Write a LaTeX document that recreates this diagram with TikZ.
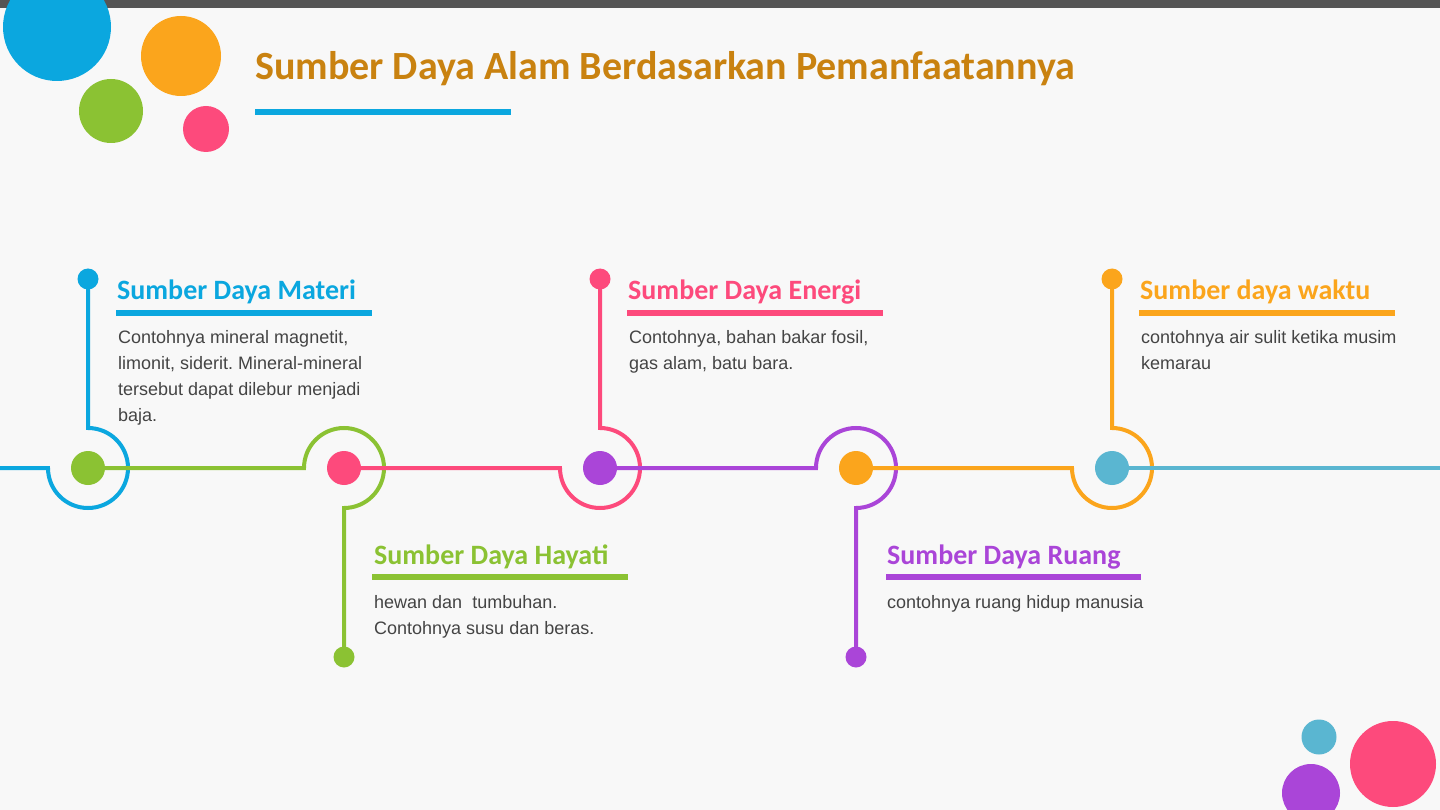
\documentclass[tikz,border=0pt]{standalone}
\usepackage{fontspec}
\setmainfont{Liberation Sans}
\newfontfamily\headfont{Carlito}
\frenchspacing

\definecolor{sdblue}{HTML}{0BA7DF}
\definecolor{sdorange}{HTML}{FBA51C}
\definecolor{sdgreen}{HTML}{8BC233}
\definecolor{sdpink}{HTML}{FD4A7C}
\definecolor{sdpurple}{HTML}{AA45D8}
\definecolor{sdcyan}{HTML}{5AB6D1}
\definecolor{sdtitle}{HTML}{C98210}
\definecolor{sdtext}{HTML}{444444}
\definecolor{sdbg}{HTML}{F8F8F8}
\definecolor{sdbar}{HTML}{555555}

\pgfdeclarelayer{back}
\pgfdeclarelayer{links}
\pgfsetlayers{back,links,main}

\begin{document}
\begin{tikzpicture}[
x=1pt, y=-1pt,
bigdot/.style={circle, fill=#1, minimum size=34pt, inner sep=0pt},
enddot/.style={circle, fill=#1, minimum size=21pt, inner sep=0pt},
link/.style={draw=#1, line width=4pt},
rule/.style={draw=#1, line width=6pt},
head/.style={anchor=base west, inner sep=0pt, text=#1,
  font=\headfont\bfseries\fontsize{28}{32}\selectfont},
body/.style={anchor=base west, inner sep=0pt, text=sdtext, align=left,
  font=\fontsize{18}{26}\selectfont}
]

\useasboundingbox (0,0) rectangle (1440,810);
\begin{pgfonlayer}{back}
\fill[sdbg] (0,0) rectangle (1440,810);
\end{pgfonlayer}
\clip (0,0) rectangle (1440,810);

% top bar and corner circles
\fill[sdbar] (0,0) rectangle (1440,8);
\fill[sdblue] (57,27) circle[radius=54];
\fill[sdorange] (181,56) circle[radius=40];
\fill[sdgreen] (111,111) circle[radius=32];
\fill[sdpink] (206,129) circle[radius=23];
\fill[sdcyan] (1319,737) circle[radius=17.5];
\fill[sdpurple] (1311,793) circle[radius=29];
\fill[sdpink] (1393,764) circle[radius=43];

% title
\node[anchor=base west, inner sep=0pt, text=sdtitle,
  font=\headfont\bfseries\fontsize{40}{46}\selectfont] (title) at (255,80)
{Sumber Daya Alam Berdasarkan Pemanfaatannya};
\draw[rule=sdblue] (255,112.5) -- (511,112.5);

% timeline
\coordinate (start) at (0,468);
\coordinate (stop) at (1440,468);

\node[bigdot=sdgreen] (d1) at (88,468) {};
\node[bigdot=sdpink] (d2) at (344,468) {};
\node[bigdot=sdpurple] (d3) at (600,468) {};
\node[bigdot=sdorange] (d4) at (856,468) {};
\node[bigdot=sdcyan] (d5) at (1112,468) {};

\node[enddot=sdblue] (e1) at (88,279) {};
\node[enddot=sdgreen] (e2) at (344,657) {};
\node[enddot=sdpink] (e3) at (600,279) {};
\node[enddot=sdpurple] (e4) at (856,657) {};
\node[enddot=sdorange] (e5) at (1112,279) {};

\begin{pgfonlayer}{links}
\draw[link=sdblue] (start) -- ([xshift=-40pt]d1.center)
  arc[start angle=180, end angle=-90, radius=40] -- (e1.center);
\draw[link=sdgreen] (d1.center) -- ([xshift=-40pt]d2.center)
  arc[start angle=180, end angle=450, radius=40] -- (e2.center);
\draw[link=sdpink] (d2.center) -- ([xshift=-40pt]d3.center)
  arc[start angle=180, end angle=-90, radius=40] -- (e3.center);
\draw[link=sdpurple] (d3.center) -- ([xshift=-40pt]d4.center)
  arc[start angle=180, end angle=450, radius=40] -- (e4.center);
\draw[link=sdorange] (d4.center) -- ([xshift=-40pt]d5.center)
  arc[start angle=180, end angle=-90, radius=40] -- (e5.center);
\draw[link=sdcyan] (d5.center) -- (stop);
\end{pgfonlayer}

% texts (body nodes sit on the baseline of their last line)
\node[head=sdblue] (h1) at (117,299) {Sumber Daya Materi};
\draw[rule=sdblue] (116,312.5) -- (372,312.5);
\node[body] (b1) at (118,421)
{Contohnya mineral magnetit,\\limonit, siderit. Mineral-mineral\\tersebut dapat dilebur menjadi\\baja.};

\node[head=sdpink] (h2) at (628,299) {Sumber Daya Energi};
\draw[rule=sdpink] (627,312.5) -- (883,312.5);
\node[body] (b2) at (629,369)
{Contohnya, bahan bakar fosil,\\gas alam, batu bara.};

\node[head=sdorange] (h3) at (1140,299) {Sumber daya waktu};
\draw[rule=sdorange] (1139,312.5) -- (1395,312.5);
\node[body] (b3) at (1141,369)
{contohnya air sulit ketika musim\\kemarau};

\node[head=sdgreen] (h4) at (374,564) {Sumber Daya Hayati};
\draw[rule=sdgreen] (372,577) -- (628,577);
\node[body] (b4) at (374,634)
{hewan dan~ tumbuhan.\\Contohnya susu dan beras.};

\node[head=sdpurple] (h5) at (887,564) {Sumber Daya Ruang};
\draw[rule=sdpurple] (886,577) -- (1141,577);
\node[body] (b5) at (887,608)
{contohnya ruang hidup manusia};

\end{tikzpicture}
\end{document}
